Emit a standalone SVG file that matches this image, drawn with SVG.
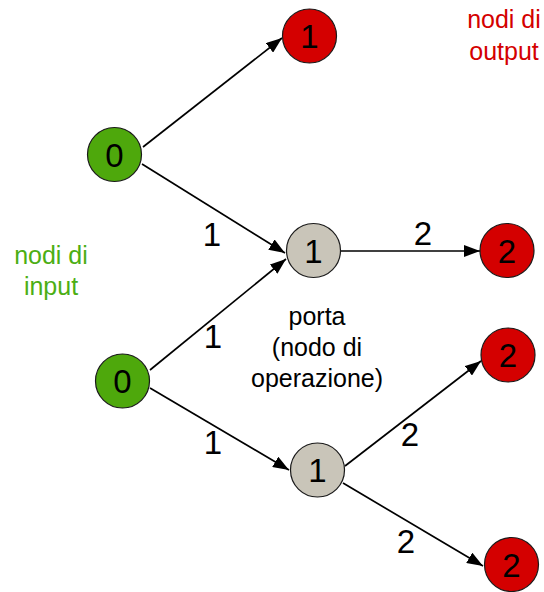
<svg xmlns="http://www.w3.org/2000/svg" width="544" height="592" viewBox="0 0 544 592">
  <defs>
    <marker id="arrow" viewBox="0 0 16 12" refX="16" refY="6" markerWidth="16" markerHeight="12" markerUnits="userSpaceOnUse" orient="auto">
      <path d="M0,0 L16,6 L0,12 Z" fill="#000"/>
    </marker>
    <style>
      .edge { stroke: #000; stroke-width: 1.7; fill: none; marker-end: url(#arrow); }
      .node circle { stroke: #1a1a1a; stroke-width: 1.2; }
      .input circle { fill: #4ea80c; }
      .gate circle { fill: #c9c5b9; }
      .output circle { fill: #d40000; }
      .digit { font-family: "Liberation Sans", Arial, sans-serif; font-size: 33px; fill: #000; text-anchor: middle; }
      .note { font-family: "Liberation Sans", Arial, sans-serif; font-size: 25px; text-anchor: middle; }
    </style>
  </defs>

  <!-- connectors -->
  <g id="connectors">
    <line class="edge" x1="143" y1="147" x2="282" y2="38"/>
    <line class="edge" x1="142" y1="164" x2="285" y2="253"/>
    <line class="edge" x1="341" y1="251" x2="480" y2="251"/>
    <line class="edge" x1="150" y1="370" x2="286" y2="259"/>
    <line class="edge" x1="150" y1="388" x2="289" y2="470"/>
    <line class="edge" x1="345" y1="466" x2="481" y2="361"/>
    <line class="edge" x1="343" y1="483" x2="483" y2="566"/>

    <text class="digit" x="212" y="246">1</text>
    <text class="digit" x="423" y="245">2</text>
    <text class="digit" x="213" y="348">1</text>
    <text class="digit" x="213" y="454">1</text>
    <text class="digit" x="410" y="446">2</text>
    <text class="digit" x="406" y="553">2</text>
  </g>

  <!-- input nodes -->
  <g id="in-top" class="node input">
    <circle cx="114.5" cy="154.5" r="27"/>
    <text class="digit" x="114.5" y="166.5">0</text>
  </g>
  <g id="in-bottom" class="node input">
    <circle cx="122.5" cy="381" r="27"/>
    <text class="digit" x="122.5" y="393">0</text>
  </g>

  <!-- gate nodes -->
  <g id="gate-top" class="node gate">
    <circle cx="313.5" cy="250.5" r="27"/>
    <text class="digit" x="313.5" y="262.5">1</text>
  </g>
  <g id="gate-bottom" class="node gate">
    <circle cx="317.5" cy="470" r="27"/>
    <text class="digit" x="317.5" y="482">1</text>
  </g>

  <!-- output nodes -->
  <g id="out-1" class="node output">
    <circle cx="309.5" cy="36" r="27"/>
    <text class="digit" x="309.5" y="48">1</text>
  </g>
  <g id="out-2" class="node output">
    <circle cx="507" cy="250.5" r="27"/>
    <text class="digit" x="507" y="262.5">2</text>
  </g>
  <g id="out-3" class="node output">
    <circle cx="508" cy="355" r="27"/>
    <text class="digit" x="508" y="367">2</text>
  </g>
  <g id="out-4" class="node output">
    <circle cx="511.5" cy="564.5" r="27"/>
    <text class="digit" x="511.5" y="576.5">2</text>
  </g>

  <!-- legend texts -->
  <g id="label-input" class="note" fill="#4cae14">
    <text x="51" y="264">nodi di</text>
    <text x="51" y="295">input</text>
  </g>
  <g id="label-output" class="note" fill="#d40000">
    <text x="504" y="28">nodi di</text>
    <text x="504" y="60">output</text>
  </g>
  <g id="label-gate" class="note" fill="#000">
    <text x="317" y="325">porta</text>
    <text x="317" y="356">(nodo di</text>
    <text x="317" y="387">operazione)</text>
  </g>
</svg>
